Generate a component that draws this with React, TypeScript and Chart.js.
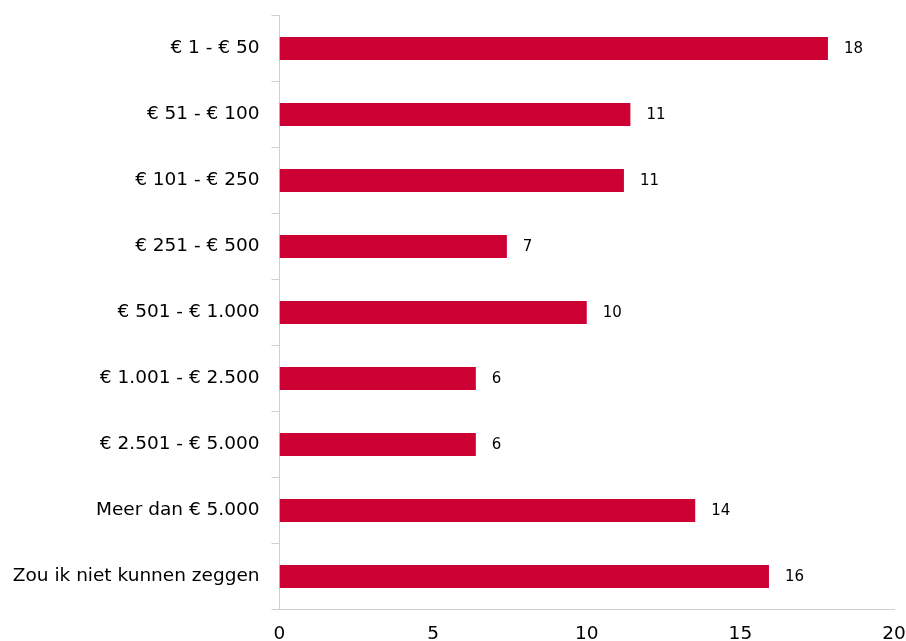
import React, { useEffect, useRef } from "react";
import { Chart, registerables } from "chart.js";

Chart.register(...registerables);

const categories = [
  "€ 1 - € 50",
  "€ 51 - € 100",
  "€ 101 - € 250",
  "€ 251 - € 500",
  "€ 501 - € 1.000",
  "€ 1.001 - € 2.500",
  "€ 2.501 - € 5.000",
  "Meer dan € 5.000",
  "Zou ik niet kunnen zeggen",
];

const shares = [17.85, 11.42, 11.21, 7.4, 10.0, 6.39, 6.39, 13.53, 15.93];

const xTicks = [0, 5, 10, 15, 20];

const FONT = "'DejaVu Sans', Verdana, sans-serif";
const BAR_COLOR = "#CC0033";
const AXIS_COLOR = "#d0d0d0";

// Writes the rounded value just to the right of each bar
const valueLabels = {
  id: "valueLabels",
  afterDatasetsDraw(chart: any) {
    const { ctx } = chart;
    const meta = chart.getDatasetMeta(0);
    const data = chart.data.datasets[0].data as number[];
    ctx.save();
    ctx.font = `15px ${FONT}`;
    ctx.fillStyle = "#000000";
    ctx.textAlign = "left";
    ctx.textBaseline = "middle";
    meta.data.forEach((bar: any, i: number) => {
      ctx.fillText(String(Math.round(data[i])), bar.x + 16, bar.y + 1);
    });
    ctx.restore();
  },
};

// Keep the plot area exactly where the layout padding puts it
function clearScalePadding(scale: any) {
  scale.paddingTop = 0;
  scale.paddingBottom = 0;
  scale.paddingLeft = 0;
  scale.paddingRight = 0;
}

export default function App() {
  const canvasRef = useRef<HTMLCanvasElement | null>(null);

  useEffect(() => {
    if (!canvasRef.current) return;
    const chart = new Chart(canvasRef.current, {
      type: "bar",
      data: {
        labels: categories,
        datasets: [
          {
            data: shares,
            backgroundColor: BAR_COLOR,
            borderWidth: 0,
            categoryPercentage: 1,
            barPercentage: 0.35,
          },
        ],
      },
      options: {
        indexAxis: "y",
        responsive: false,
        animation: false,
        layout: { padding: { top: 15.5, right: 12, left: 0, bottom: 0 } },
        plugins: {
          legend: { display: false },
          tooltip: { enabled: false },
        },
        scales: {
          x: {
            min: 0,
            max: 20,
            afterBuildTicks(scale: any) {
              scale.ticks = xTicks.map((v) => ({ value: v }));
            },
            afterFit(scale: any) {
              scale.height = 31.5;
              clearScalePadding(scale);
            },
            grid: { display: false, drawTicks: false },
            border: { display: true, color: AXIS_COLOR, width: 1 },
            ticks: {
              padding: 14,
              color: "#000000",
              font: { family: FONT, size: 18.5 },
              maxRotation: 0,
            },
          },
          y: {
            afterFit(scale: any) {
              scale.width = 279.5;
              clearScalePadding(scale);
            },
            grid: {
              offset: true,
              drawOnChartArea: false,
              drawTicks: true,
              tickLength: 8,
              color: AXIS_COLOR,
            },
            border: { display: true, color: AXIS_COLOR, width: 1 },
            ticks: {
              padding: 12,
              color: "#000000",
              font: { family: FONT, size: 18.5 },
            },
          },
        },
      },
      plugins: [valueLabels],
    });
    return () => chart.destroy();
  }, []);

  return (
    <div style={{ position: "absolute", left: 0, top: 0, width: 906, height: 641, background: "#ffffff" }}>
      <canvas ref={canvasRef} width={906} height={641} />
    </div>
  );
}
